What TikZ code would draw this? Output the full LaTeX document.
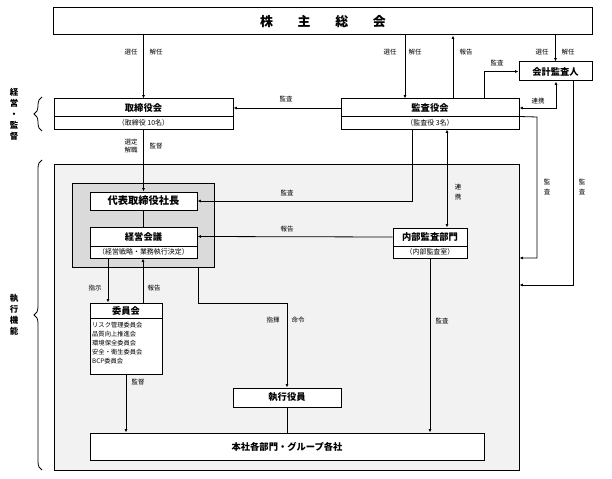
\documentclass[tikz,border=0pt]{standalone}
\usepackage{fontspec}
\setmainfont{Noto Sans CJK JP}
\usepackage{tikz}
\usetikzlibrary{positioning}
\usetikzlibrary{arrows.meta}
\usetikzlibrary{decorations.pathreplacing}
\usepackage{xcolor}
\definecolor{outergray}{HTML}{F2F2F2}
\definecolor{innergray}{HTML}{DADADA}

\tikzset{
	box/.style={draw, fill=white, line width=1pt, inner sep=0pt, font=\bfseries\fontsize{9.3}{10}\selectfont},
	subbox/.style={draw, fill=white, line width=1pt, inner sep=0pt, font=\fontsize{7}{8}\selectfont},
	bg/.style={draw, line width=1pt, inner sep=0pt},
	lbl/.style={inner sep=0pt, font=\fontsize{6.5}{7.5}\selectfont},
	vlbl/.style={inner sep=0pt, align=center, font=\fontsize{6.5}{9.5}\selectfont},
	side/.style={inner sep=0pt, align=center, font=\bfseries\fontsize{8.5}{11}\selectfont},
	arr/.style={line width=0.8pt, -{Latex[length=3.5pt,width=3pt]}},
	arrboth/.style={line width=0.8pt, {Latex[length=3.5pt,width=3pt]}-{Latex[length=3.5pt,width=3pt]}},
	conn/.style={line width=0.8pt},
	brc/.style={decorate, decoration={brace, amplitude=8bp}, line width=0.8pt}
}

\begin{document}
\begin{tikzpicture}[x=1bp, y=-1bp]
	\useasboundingbox (0,0) rectangle (612,479);

	% gray areas
	\node[bg, fill=outergray, minimum width=465bp, minimum height=305bp] (shikko) at (286.5,317.5) {};
	\node[bg, fill=innergray, minimum width=142bp, minimum height=84bp] (keiei) at (143,225) {};

	% boxes
	\node[box, minimum width=538bp, minimum height=27bp, font=\bfseries\fontsize{13}{14}\selectfont] (kabu) at (323,21.5) {株\hspace{1.9em}主\hspace{1.9em}総\hspace{1.9em}会};
	\node[box, minimum width=179bp, minimum height=18bp] (torih) at (143.5,108) {取締役会};
	\node[subbox, minimum width=179bp, minimum height=12bp] (toris) at (143.5,123) {（取締役\ 10名）};
	\node[box, minimum width=178bp, minimum height=18bp] (kansah) at (430,108) {監査役会};
	\node[subbox, minimum width=178bp, minimum height=12bp] (kansas) at (430,123) {（監査役\ 3名）};
	\node[box, minimum width=73bp, minimum height=19bp] (kaikei) at (555.5,71.5) {会計監査人};
	\node[box, minimum width=107bp, minimum height=18bp, font=\bfseries\fontsize{10.3}{11}\selectfont] (shacho) at (143.5,201) {代表取締役社長};
	\node[box, minimum width=107bp, minimum height=19bp] (kaigih) at (143.5,236.5) {経営会議};
	\node[subbox, minimum width=107bp, minimum height=12bp] (kaigis) at (143.5,252) {（経営戦略・業務執行決定）};
	\node[box, minimum width=74bp, minimum height=18bp] (naibuh) at (430,237) {内部監査部門};
	\node[subbox, minimum width=74bp, minimum height=12bp] (naibus) at (430,252) {（内部監査室）};
	\node[box, minimum width=72bp, minimum height=15bp] (iinh) at (126,310.5) {委員会};
	\node[subbox, minimum width=72bp, minimum height=56bp] (iinb) at (126,346) {};
	\node[inner sep=0pt, anchor=north west, align=left, font=\fontsize{6.3}{9.1}\selectfont] (iinlist) at (92,322) {リスク管理委員会\\品質向上推進会\\環境保全委員会\\安全・衛生委員会\\BCP委員会};
	\node[box, minimum width=108bp, minimum height=19bp] (yakuin) at (287,397.5) {執行役員};
	\node[box, minimum width=394bp, minimum height=27bp] (honsha) at (287,446.5) {本社各部門・グループ各社};

	% side labels
	\node[side] (keieikantoku) at (14,114) {経\\営\\・\\監\\督};
	\draw[brc] (42,131) -- (42,97);
	\node[side] (shikkokino) at (14,315) {執\\行\\機\\能};
	\draw[brc] (42,470) -- (42,160);

	% connectors
	\draw[arr] (kabu.south -| torih.north) -- (torih.north);
	\draw[arr] (kabu.south -| 405,0) -- (kansah.north -| 405,0);
	\draw[arr] (kansah.north -| 453,0) -- (kabu.south -| 453,0);
	\draw[arr] (kabu.south -| kaikei.north) -- (kaikei.north);
	\draw[arr] (kansah.north -| 484,0) |- (kaikei.west);
	\draw[arrboth] (kaikei.south -| 556,0) |- (kansah.east);
	\draw[arr] (kansah.west) -- (torih.east);
	\draw[arr] (toris.south) -- (shacho.north);
	\draw[arr] (kansas.south -| 412,0) |- (shacho.east);
	\draw[arrboth] (kansas.south -| 447,0) -- (naibuh.north -| 447,0);
	\draw[arr] (naibuh.west) -- (kaigih.east);
	\draw[arr] (kansas.north east) -- (537,117) |- (shikko.east |- 0,258);
	\draw[arr] (kaikei.south -| 573,0) |- (shikko.east |- 0,285);
	\draw[conn] (shacho.south) -- (kaigih.north);
	\draw[arr] (kaigis.south -| 108,0) -- (iinh.north -| 108,0);
	\draw[arr] (iinh.north -| 143,0) -- (kaigis.south -| 143,0);
	\draw[arr] (keiei.south -| 198,0) -- (198,303) -| (yakuin.north);
	\draw[arr] (iinb.south) -- (honsha.north -| iinb.south);
	\draw[conn] (yakuin.south) -- (honsha.north -| yakuin.south);
	\draw[arr] (naibus.south) -- (honsha.north -| naibus.south);

	% labels
	\node[lbl] (l1) at (131,52) {選任};
	\node[lbl] (l2) at (156,52) {解任};
	\node[lbl] (l3) at (390,52) {選任};
	\node[lbl] (l4) at (415,52) {解任};
	\node[lbl] (l5) at (466,52) {報告};
	\node[lbl] (l6) at (542,52) {選任};
	\node[lbl] (l7) at (568,52) {解任};
	\node[lbl] (l8) at (497,63) {監査};
	\node[lbl] (l9) at (538,101) {連携};
	\node[lbl] (l10) at (286,99) {監査};
	\node[vlbl, font=\fontsize{6.5}{8}\selectfont] (l11) at (131,146) {選定\\解職};
	\node[lbl] (l12) at (156,146) {監督};
	\node[lbl] (l13) at (287,193) {監査};
	\node[lbl] (l14) at (287,229) {報告};
	\node[vlbl] (l15) at (458,192) {連\\携};
	\node[vlbl] (l16) at (547,187) {監\\査};
	\node[vlbl] (l17) at (582,187) {監\\査};
	\node[lbl] (l18) at (95,288) {指示};
	\node[lbl] (l19) at (154,288) {報告};
	\node[lbl] (l20) at (273,320) {指揮};
	\node[lbl] (l21) at (298,320) {命令};
	\node[lbl] (l22) at (138,382) {監督};
	\node[lbl] (l23) at (442,321) {監査};
\end{tikzpicture}
\end{document}
